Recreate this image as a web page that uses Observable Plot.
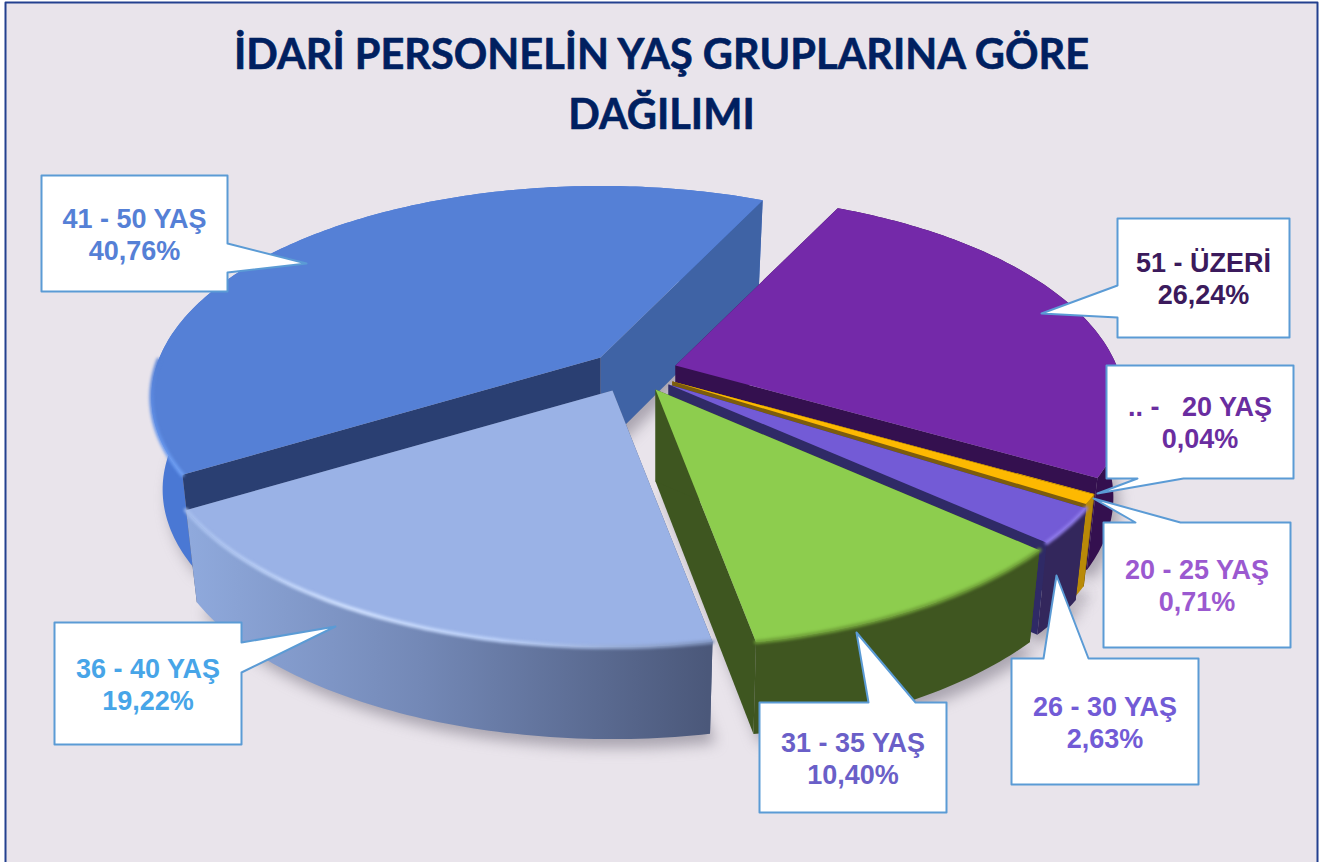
<!DOCTYPE html>
<html lang="tr">
<head>
<meta charset="utf-8">
<title>İdari personelin yaş gruplarına göre dağılımı</title>
<script src="https://cdn.jsdelivr.net/npm/d3@7"></script>
<script src="https://cdn.jsdelivr.net/npm/@observablehq/plot@0.6"></script>
<style>
html,body{margin:0;padding:0;background:#fff}
svg{display:block}
.blur6{filter:blur(7px)}
.blur2{filter:blur(1.6px)}
</style>
</head>
<body>
<div id="chart"></div>
<script>
// ---- data (clockwise from the purple slice)
const categories = ["51 - ÜZERİ", ".. -\u00A0\u00A0 20 YAŞ", "20 - 25 YAŞ", "26 - 30 YAŞ", "31 - 35 YAŞ", "36 - 40 YAŞ", "41 - 50 YAŞ"];
const percents = [26.24, 0.04, 0.71, 2.63, 10.40, 19.22, 40.76];
const titleLines = ["İDARİ PERSONELİN YAŞ GRUPLARINA GÖRE", "DAĞILIMI"];

// ---- per-slice style and layout
const topColors  = ["#7429A9", "#FDB901", "#FDB901", "#735BD6", "#8DCD4E", "#9AB2E6", "#5580D6"];
const wallColors = ["#34104F", "#B98A08", "#B98A08", "#33275C", "#3F5620", "url(#lightWall)", "#4A78D4"];
const nearFace   = ["#34104F", "#7C5C0E", "#7C5C0E", "#2F2A66", "#3E5620", "#4E5C7E", "#2A3F72"];
const farFace    = ["#34104F", "#7C5C0E", "#7C5C0E", "#2F2A66", "#3E5620", "#4E5C7E", "#3F63A5"];
const rimColors  = [null, null, null, "#8F7BEA", "#6F9F38", "url(#lightRim)", "url(#blueRim)"];
const textColors = ["#3B1A5C", "#6A2DA0", "#9B59D0", "#725BD6", "#6A5FC8", "#47A5E8", "#5580D6"];
const apexX = [675, 672, 672, 668, 655, 612, 600];
const apexY = [365, 381, 381, 384, 389, 390, 357];
const radial = [1, 1, 1, 1.01, 1.025, 1.02, 1];
// callouts: box [left, top, right, bottom], pointer base along one side, pointer tip
const callouts = [
  {box:[1117,218,1289,337], side:"left",   base:[285,317],   tip:[1041,313]},
  {box:[1106,365,1293,478], side:"bottom", base:[1137,1183], tip:[1097,493]},
  {box:[1103,522,1290,647], side:"top",    base:[1135,1180], tip:[1093,498]},
  {box:[1011,658,1198,784], side:"top",    base:[1043,1088], tip:[1056,575]},
  {box:[759,702,946,812],   side:"top",    base:[868,915],   tip:[856,632]},
  {box:[54,622,241,744],    side:"right",  base:[642,672],   tip:[335,626]},
  {box:[41,175,227,291],    side:"right",  base:[243,272],   tip:[306,263]}
];

// ---- projection of the tilted disc
const startDeg = -64.5, R = 441, Y = 204, K = 0.189, depth = 92, shrink = 0.975;
const project = (t) => {
  const c = Math.cos(t), s = Math.sin(t), w = 1 - K * s;
  return [R * c / w, Y * s / w];
};
const arcs = d3.pie().sort(null).startAngle(startDeg * Math.PI / 180)
  .endAngle((startDeg + 360) * Math.PI / 180)(percents);

const slices = arcs.map((a, i) => {
  const ax = apexX[i], ay = apexY[i], q = radial[i];
  const n = Math.max(2, Math.ceil((a.endAngle - a.startAngle) * 60));
  const rim = d3.range(n + 1).map(k => {
    const [px, py] = project(a.startAngle + (a.endAngle - a.startAngle) * k / n);
    return {x: ax + q * px, y: ay + q * py};
  });
  const low = p => ({x: ax + (p.x - ax) * shrink, y: p.y + depth});
  const apex = {x: ax, y: ay};
  return {apex, rim, low: rim.map(low), apexLow: low(apex), i};
});

const poly = (pts, fill, extra = {}) => Plot.line(pts, {x: "x", y: "y", curve: "linear-closed", fill, stroke: "none", ...extra});

const marks = [];
// page panel
marks.push(poly([{x:5,y:2},{x:1317,y:2},{x:1317,y:880},{x:5,y:880}], "#E9E4EB", {stroke:"#23408F", strokeWidth:2}));

// drop shadows
for (const s of slices) {
  marks.push(poly(s.low.concat([s.apexLow]).map(p => ({x:p.x+6, y:p.y+9})), "#77717f", {fillOpacity:.55, className:"blur6"}));
}
// slices back to front: 41-50, 51+, ..-20, 20-25, 26-30, 31-35, 36-40
const order = [6, 0, 1, 2, 3, 4, 5];
for (const i of order) {
  const s = slices[i];
  const first = s.rim[0], last = s.rim[s.rim.length - 1], firstL = s.low[0], lastL = s.low[s.low.length - 1];
  const wall = poly(s.rim.concat(s.low.slice().reverse()), wallColors[i]);
  const faces = [
    poly([s.apex, last, lastL, s.apexLow], farFace[i]),
    poly([s.apex, first, firstL, s.apexLow], nearFace[i])
  ];
  // the back slice's wall runs behind its cut faces; the front slices' walls run ahead of them
  if (i === 6) marks.push(wall, ...faces); else marks.push(...faces, wall);
  // top surface
  marks.push(poly([s.apex, ...s.rim], topColors[i]));
  // bevel along the visible rim
  if (rimColors[i]) {
    marks.push(Plot.line(s.rim.filter(p => p.y > s.apex.y), {x:"x", y:"y", stroke: rimColors[i], strokeWidth: 4, className:"blur2"}));
  }
}
// callouts
callouts.forEach((c, i) => {
  const [l, t, r, b] = c.box, [b0, b1] = c.base, tip = {x:c.tip[0], y:c.tip[1]};
  const P = (x, y) => ({x, y});
  const pts =
    c.side === "left"   ? [P(l,t),P(r,t),P(r,b),P(l,b),P(l,b1),tip,P(l,b0)] :
    c.side === "right"  ? [P(l,t),P(r,t),P(r,b0),tip,P(r,b1),P(r,b),P(l,b)] :
    c.side === "top"    ? [P(l,t),P(b0,t),tip,P(b1,t),P(r,t),P(r,b),P(l,b)] :
                          [P(l,t),P(r,t),P(r,b),P(b1,b),tip,P(b0,b),P(l,b)];
  marks.push(poly(pts, "#fff", {stroke:"#5B9BD5", strokeWidth:2}));
  marks.push(Plot.text([`${categories[i]}\n${percents[i].toFixed(2).replace(".", ",")}%`], {
    x: () => (l + r) / 2, y: () => (t + b) / 2, text: d => d,
    fontFamily: "Liberation Sans", fontWeight: 700, fontSize: 27, lineHeight: 1.185,
    fill: textColors[i], textAnchor: "middle"
  }));
});
// title
titleLines.forEach((line, i) => {
  marks.push(Plot.text([line], {
    x: () => 661, y: () => 55 + 60 * i, text: d => d,
    fontFamily: "Lato", fontWeight: 700, fontSize: 41.5, fill: "#002060", stroke: "#002060", strokeWidth: 0.6, textAnchor: "middle"
  }));
});

const plot = Plot.plot({
  width: 1322, height: 862, margin: 0,
  x: {domain: [0, 1322], range: [0, 1322], axis: null},
  y: {domain: [0, 862], range: [0, 862], axis: null},
  style: {background: "transparent", overflow: "hidden"},
  marks
});
plot.insertAdjacentHTML("afterbegin", `<defs>
<linearGradient id="lightWall" gradientUnits="userSpaceOnUse" x1="190" y1="0" x2="707" y2="0">
<stop offset="0" stop-color="#8FA9DC"/><stop offset=".45" stop-color="#7388B6"/><stop offset="1" stop-color="#4B587A"/></linearGradient>
<linearGradient id="lightRim" gradientUnits="userSpaceOnUse" x1="190" y1="0" x2="707" y2="0">
<stop offset="0" stop-color="#A8C0EE"/><stop offset=".3" stop-color="#CFE0FF"/><stop offset=".6" stop-color="#BBD0F8"/><stop offset="1" stop-color="#7E92BC"/></linearGradient>
<linearGradient id="blueRim" gradientUnits="userSpaceOnUse" x1="0" y1="365" x2="0" y2="475">
<stop offset="0" stop-color="#5580D6"/><stop offset="1" stop-color="#6FA0F5"/></linearGradient>
</defs>`);
document.getElementById("chart").append(plot);
</script>
</body>
</html>
